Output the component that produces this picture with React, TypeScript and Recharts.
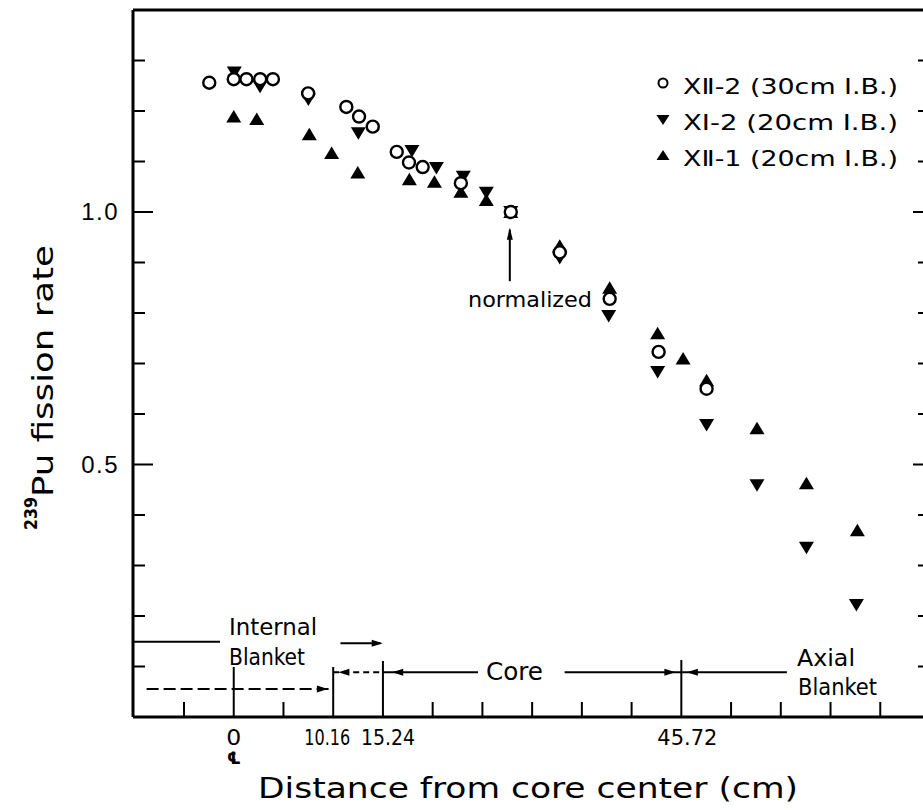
import { ScatterChart, Scatter, XAxis, YAxis, ReferenceLine, ReferenceDot, Customized } from "recharts"

// XII-2 (30cm I.B.) - open circles
const XII2_X = [-2.5, 0, 1.3, 2.7, 4.0, 7.6, 11.5, 12.8, 14.2, 16.65, 17.9, 19.3, 23.2, 28.3, 33.3, 38.4, 43.4, 48.3]
const XII2_Y = [1.256, 1.263, 1.263, 1.263, 1.263, 1.235, 1.208, 1.189, 1.169, 1.119, 1.098, 1.089, 1.057, 1.0, 0.92, 0.828, 0.723, 0.65]

// XI-2 (20cm I.B.) - down triangles
const XI2_X = [0.06, 2.69, 7.62, 12.73, 18.2, 20.7, 23.45, 25.8, 28.3, 33.3, 38.3, 43.3, 48.3, 53.45, 58.5, 63.6]
const XI2_Y = [1.276, 1.248, 1.223, 1.156, 1.121, 1.087, 1.07, 1.038, 1.0, 0.909, 0.794, 0.683, 0.578, 0.459, 0.335, 0.222]

// XII-1 (20cm I.B.) - up triangles
const XII1_X = [0, 2.35, 7.72, 10.0, 12.67, 17.94, 20.5, 23.2, 25.8, 28.3, 33.3, 38.4, 43.3, 45.9, 48.3, 53.45, 58.5, 63.7]
const XII1_Y = [1.189, 1.184, 1.154, 1.117, 1.078, 1.065, 1.06, 1.04, 1.024, 1.0, 0.933, 0.85, 0.76, 0.71, 0.667, 0.572, 0.463, 0.37]

const X_TICKS = [-5.08, 0, 5.08, 10.16, 15.24, 20.32, 25.4, 30.48, 35.56, 40.64, 45.72, 50.8, 55.88, 60.96, 66.04]
const Y_TICKS = [0.1, 0.2, 0.3, 0.4, 0.5, 0.6, 0.7, 0.8, 0.9, 1.0, 1.1, 1.2, 1.3]
const Y_LABELS = [0.5, 1.0]

const SERIES_NAMES = ["XⅡ-2 (30cm I.B.)", "XI-2 (20cm I.B.)", "XⅡ-1 (20cm I.B.)"]

const zip = (xs: number[], ys: number[]) => xs.map((x, i) => ({ x, y: ys[i] }))

const FONT = "'DejaVu Sans Condensed', 'DejaVu Sans', sans-serif"

// region markers along the bottom (data coords)
const SEGMENTS = [
  { a: [-10.29, 0.149], b: [-1.4, 0.149], dash: "" },
  { a: [10.9, 0.146], b: [15.0, 0.146], dash: "" },
  { a: [-8.9, 0.0554], b: [10.16, 0.0554], dash: "12 5" },
  { a: [10.16, 0.0885], b: [15.24, 0.0885], dash: "6 4" },
  { a: [15.24, 0.0885], b: [24.95, 0.0885], dash: "" },
  { a: [33.8, 0.0885], b: [56.5, 0.0885], dash: "" },
  { a: [28.2, 0.863], b: [28.2, 0.965], dash: "" },
]
const HEADS = [
  { x: 14.6, y: 0.146, dir: "r" },
  { x: 9.0, y: 0.0554, dir: "r" },
  { x: 11.3, y: 0.0885, dir: "l" },
  { x: 16.8, y: 0.0885, dir: "l" },
  { x: 44.5, y: 0.0885, dir: "r" },
  { x: 46.9, y: 0.0885, dir: "l" },
  { x: 28.2, y: 0.955, dir: "u" },
]

const TALL: Record<string, number> = { "0": 50, "10.16": 50, "15.24": 56, "45.72": 57 }
// label centre offset and squeezed width, the original lettering is narrow
const LABEL_POS: Record<string, [number, number]> = {
  "0": [0, 15],
  "10.16": [-6, 46],
  "15.24": [5, 54],
  "45.72": [6, 60],
}

function OpenCircle(p: any) {
  return <circle cx={p.cx} cy={p.cy} r={6} fill="#fff" stroke="#000" strokeWidth={2.4} />
}
function UpTri(p: any) {
  const { cx, cy } = p
  return <polygon points={`${cx},${cy - 6.5} ${cx - 7.5},${cy + 6} ${cx + 7.5},${cy + 6}`} fill="#000" />
}
function DownTri(p: any) {
  const { cx, cy } = p
  return <polygon points={`${cx},${cy + 6.5} ${cx - 7.5},${cy - 6} ${cx + 7.5},${cy - 6}`} fill="#000" />
}
function Head(dir: string) {
  return (p: any) => {
    const { cx, cy } = p
    let pts = ""
    if (dir === "r") pts = `${cx + 6},${cy} ${cx - 5},${cy - 3.5} ${cx - 5},${cy + 3.5}`
    if (dir === "l") pts = `${cx - 6},${cy} ${cx + 5},${cy - 3.5} ${cx + 5},${cy + 3.5}`
    if (dir === "u") pts = `${cx},${cy - 7} ${cx - 3},${cy + 5} ${cx + 3},${cy + 5}`
    return <polygon points={pts} fill="#000" />
  }
}

function BottomTick(props: any) {
  const { x, y, payload } = props
  const key = String(payload.value)
  const len = TALL[key] ?? 15
  const pos = LABEL_POS[key]
  return (
    <g>
      <line x1={x} x2={x} y1={y} y2={y - len} stroke="#000" strokeWidth={2} />
      {pos && (
        <text
          x={x + pos[0]}
          y={y + 28}
          textAnchor="middle"
          fontSize={22}
          textLength={pos[1]}
          lengthAdjust="spacingAndGlyphs"
          fontFamily={FONT}
          fill="#000"
        >
          {key}
        </text>
      )}
      {key === "0" && (
        <text x={x} y={y + 47} textAnchor="middle" fontSize={17} fontWeight="bold" fontFamily={FONT} fill="#000">
          ℄
        </text>
      )}
    </g>
  )
}

function LeftTick(props: any) {
  const { x, y, payload } = props
  const major = Y_LABELS.includes(payload.value)
  return (
    <g>
      <line x1={x} x2={x + (major ? 20 : 12)} y1={y} y2={y} stroke="#000" strokeWidth={2} />
      {major && (
        <text x={x - 14} y={y + 8} textAnchor="end" fontSize={24} letterSpacing={1.5} fontFamily="'Liberation Sans', Arial, sans-serif" fill="#000">
          {payload.value.toFixed(1)}
        </text>
      )}
    </g>
  )
}

function RightTick(props: any) {
  const { x, y, payload } = props
  const major = Y_LABELS.includes(payload.value)
  return <line x1={x} x2={x - (major ? 12 : 7)} y1={y} y2={y} stroke="#000" strokeWidth={2} />
}

function Overlay() {
  const t = { fontFamily: FONT, fill: "#000" }
  return (
    <g>
      {/* legend */}
      <circle cx={663} cy={83} r={4.5} fill="#fff" stroke="#000" strokeWidth={2} />
      <polygon points="656.5,115 669.5,115 663,125" fill="#000" />
      <polygon points="663,150 656.5,160 669.5,160" fill="#000" />
      {SERIES_NAMES.map((s, i) => (
        <text key={s} x={683} y={94 + i * 36} fontSize={22} textLength={215} lengthAdjust="spacingAndGlyphs" {...t}>
          {s}
        </text>
      ))}
      {/* region labels */}
      <text x={229} y={635} fontSize={23} textLength={88} lengthAdjust="spacingAndGlyphs" {...t}>Internal</text>
      <text x={229} y={665} fontSize={23} textLength={76} lengthAdjust="spacingAndGlyphs" {...t}>Blanket</text>
      <text x={486} y={680} fontSize={24} textLength={57} lengthAdjust="spacingAndGlyphs" {...t}>Core</text>
      <text x={797} y={666} fontSize={23} textLength={58} lengthAdjust="spacingAndGlyphs" {...t}>Axial</text>
      <text x={798} y={695} fontSize={23} textLength={79} lengthAdjust="spacingAndGlyphs" {...t}>Blanket</text>
      <text x={468} y={307} fontSize={21} textLength={124} lengthAdjust="spacingAndGlyphs" {...t}>normalized</text>
      {/* axis titles */}
      <text x={258} y={798} fontSize={28} textLength={540} lengthAdjust="spacingAndGlyphs" {...t}>Distance from core center (cm)</text>
      <text transform="translate(37,530) rotate(-90)" fontSize={17} textLength={33} lengthAdjust="spacingAndGlyphs" fontWeight="bold" {...t}>239</text>
      <text transform="translate(53,497) rotate(-90)" fontSize={28} textLength={252} lengthAdjust="spacingAndGlyphs" {...t}>Pu fission rate</text>
    </g>
  )
}

export default function App() {
  return (
    <div style={{ position: "absolute", left: 0, top: 0, width: 923, height: 810, overflow: "hidden", background: "#fff" }}>
      <ScatterChart width={928} height={810} margin={{ top: 10, right: 0, bottom: 63, left: 73 }}>
        <XAxis
          type="number"
          dataKey="x"
          domain={[-10.29, 70.61]}
          ticks={X_TICKS}
          interval={0}
          tickSize={0}
          tickMargin={0}
          tickLine={false}
          tick={BottomTick}
          axisLine={{ stroke: "#000", strokeWidth: 3 }}
          height={30}
          allowDataOverflow
        />
        <YAxis
          type="number"
          dataKey="y"
          domain={[0, 1.4]}
          ticks={Y_TICKS}
          interval={0}
          tickSize={0}
          tickMargin={0}
          tickLine={false}
          tick={LeftTick}
          axisLine={{ stroke: "#000", strokeWidth: 3 }}
          width={60}
          allowDataOverflow
        />
        <YAxis
          yAxisId="r"
          orientation="right"
          type="number"
          domain={[0, 1.4]}
          ticks={Y_TICKS}
          interval={0}
          tickSize={0}
          tickMargin={0}
          tickLine={false}
          tick={RightTick}
          axisLine={{ stroke: "#000", strokeWidth: 3 }}
          width={3}
          allowDataOverflow
        />
        <ReferenceLine y={1.4} stroke="#000" strokeWidth={3} />
        {SEGMENTS.map((s, i) => (
          <ReferenceLine
            key={i}
            segment={[{ x: s.a[0], y: s.a[1] }, { x: s.b[0], y: s.b[1] }]}
            stroke="#000"
            strokeWidth={2}
            strokeDasharray={s.dash || undefined}
          />
        ))}
        {HEADS.map((h, i) => (
          <ReferenceDot key={i} x={h.x} y={h.y} r={4} shape={Head(h.dir)} />
        ))}
        <Scatter name={SERIES_NAMES[1]} data={zip(XI2_X, XI2_Y)} shape={DownTri} isAnimationActive={false} />
        <Scatter name={SERIES_NAMES[2]} data={zip(XII1_X, XII1_Y)} shape={UpTri} isAnimationActive={false} />
        <Scatter name={SERIES_NAMES[0]} data={zip(XII2_X, XII2_Y)} shape={OpenCircle} isAnimationActive={false} />
        <Customized component={Overlay} />
      </ScatterChart>
    </div>
  )
}
